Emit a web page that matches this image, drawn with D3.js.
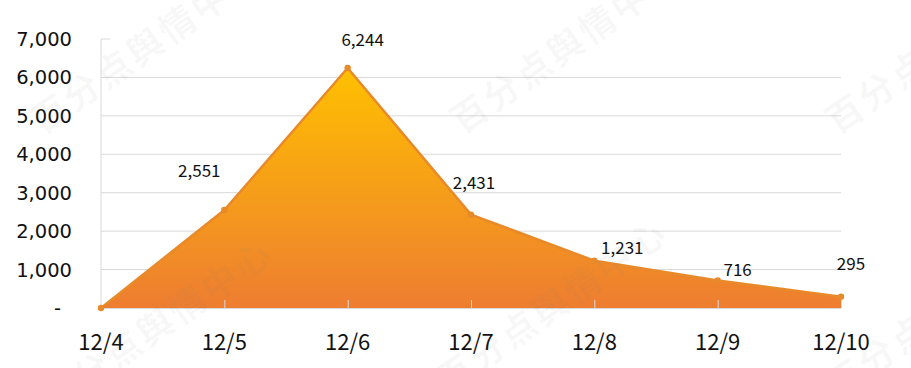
<!DOCTYPE html>
<html>
<head>
<meta charset="utf-8">
<script src="https://cdn.jsdelivr.net/npm/d3@7"></script>
<style>
  body { margin: 0; background: #fff; }
  svg { display: block; }
</style>
</head>
<body>
<div id="chart"></div>
<script>
// data
const dates = ["12/4", "12/5", "12/6", "12/7", "12/8", "12/9", "12/10"];
const counts = [0, 2551, 6244, 2431, 1231, 716, 295];
const yTicks = [0, 1000, 2000, 3000, 4000, 5000, 6000, 7000];
const watermarkText = "百分点舆情中心";

// label nudges (label placement was manual in the original)
const labelDx = [0, -25, 15, 3, 28, 20, 10];
const labelDy = [0, -33, -22, -26, -7, -4, -27];

const width = 911, height = 368;
const margin = { top: 39, right: 70, bottom: 60, left: 101 };

const svg = d3.select("#chart").append("svg")
  .attr("width", width)
  .attr("height", height);

const x = d3.scalePoint()
  .domain(dates)
  .range([margin.left, width - margin.right]);

const y = d3.scaleLinear()
  .domain([0, 7000])
  .range([height - margin.bottom, margin.top]);

const grid = "#d9d9d9";
const lineColor = "#E8892A";

// gradient for the area
const defs = svg.append("defs");
const grad = defs.append("linearGradient")
  .attr("id", "areaGrad")
  .attr("x1", 0).attr("y1", 0).attr("x2", 0).attr("y2", 1);
grad.append("stop").attr("offset", "0%").attr("stop-color", "#FFC000");
grad.append("stop").attr("offset", "100%").attr("stop-color", "#ED7D31");

// gridlines (no line at the top value, only a tick)
svg.append("g")
  .selectAll("line")
  .data(yTicks.filter(t => t > 0 && t < 7000))
  .join("line")
  .attr("x1", x.range()[0])
  .attr("x2", x.range()[1])
  .attr("y1", d => y(d))
  .attr("y2", d => y(d))
  .attr("stroke", grid)
  .attr("stroke-width", 1);

// top tick
svg.append("line")
  .attr("x1", margin.left).attr("x2", margin.left + 9)
  .attr("y1", y(7000)).attr("y2", y(7000))
  .attr("stroke", grid);

// y axis line
svg.append("line")
  .attr("x1", margin.left).attr("x2", margin.left)
  .attr("y1", y(7000)).attr("y2", y(0))
  .attr("stroke", grid);

// area
const pts = dates.map((d, i) => [x(d), y(counts[i])]);

const area = d3.area()
  .x(d => d[0])
  .y0(y(0))
  .y1(d => d[1]);

svg.append("path")
  .attr("d", area(pts))
  .attr("fill", "url(#areaGrad)");

// line
svg.append("path")
  .attr("d", d3.line()(pts))
  .attr("fill", "none")
  .attr("stroke", lineColor)
  .attr("stroke-width", 2.5)
  .attr("stroke-linejoin", "round");

// x axis line + ticks on top of area
svg.append("line")
  .attr("x1", x.range()[0]).attr("x2", x.range()[1])
  .attr("y1", y(0) + 0.5).attr("y2", y(0) + 0.5)
  .attr("stroke", grid);

svg.append("g")
  .selectAll("line")
  .data(dates.slice(1))
  .join("line")
  .attr("x1", d => x(d) + 0.5)
  .attr("x2", d => x(d) + 0.5)
  .attr("y1", y(0) - 8)
  .attr("y2", y(0))
  .attr("stroke", grid);

// markers
svg.append("g")
  .selectAll("circle")
  .data(pts)
  .join("circle")
  .attr("cx", d => d[0])
  .attr("cy", d => d[1])
  .attr("r", 3.2)
  .attr("fill", lineColor);

// y tick labels
svg.append("g")
  .selectAll("text")
  .data(yTicks)
  .join("text")
  .attr("x", d => d === 0 ? 61 : 72)
  .attr("y", d => y(d))
  .attr("dy", "0.36em")
  .attr("text-anchor", "end")
  .attr("font-family", "DejaVu Sans")
  .attr("font-size", 19.5)
  .attr("fill", "#111")
  .text(d => d === 0 ? "-" : d3.format(",")(d));

// x tick labels
svg.append("g")
  .selectAll("text")
  .data(dates)
  .join("text")
  .attr("x", d => x(d))
  .attr("y", 350)
  .attr("text-anchor", "middle")
  .attr("font-family", "Noto Sans CJK SC")
  .attr("font-size", 22)
  .attr("fill", "#111")
  .text(d => d);

// data labels (skip the zero)
svg.append("g")
  .selectAll("text")
  .data(dates.map((d, i) => i).filter(i => counts[i] > 0))
  .join("text")
  .attr("x", i => x(dates[i]) + labelDx[i])
  .attr("y", i => y(counts[i]) + labelDy[i])
  .attr("text-anchor", "middle")
  .attr("font-family", "Noto Sans CJK SC")
  .attr("font-size", 17)
  .attr("fill", "#111")
  .text(i => d3.format(",")(counts[i]));

// faint watermark, runs off the edges like the original
const wmSpots = [[35, 125], [455, 125], [830, 125], [45, 405], [440, 385], [830, 390]];
svg.append("g")
  .selectAll("text")
  .data(wmSpots)
  .join("text")
  .attr("transform", d => `translate(${d[0]},${d[1]}) rotate(-35)`)
  .attr("dy", "0.35em")
  .attr("font-family", "Noto Sans CJK SC")
  .attr("font-weight", "bold")
  .attr("font-size", 36)
  .attr("letter-spacing", 3)
  .attr("fill", "#808080")
  .attr("fill-opacity", 0.06)
  .text(watermarkText);
</script>
</body>
</html>
